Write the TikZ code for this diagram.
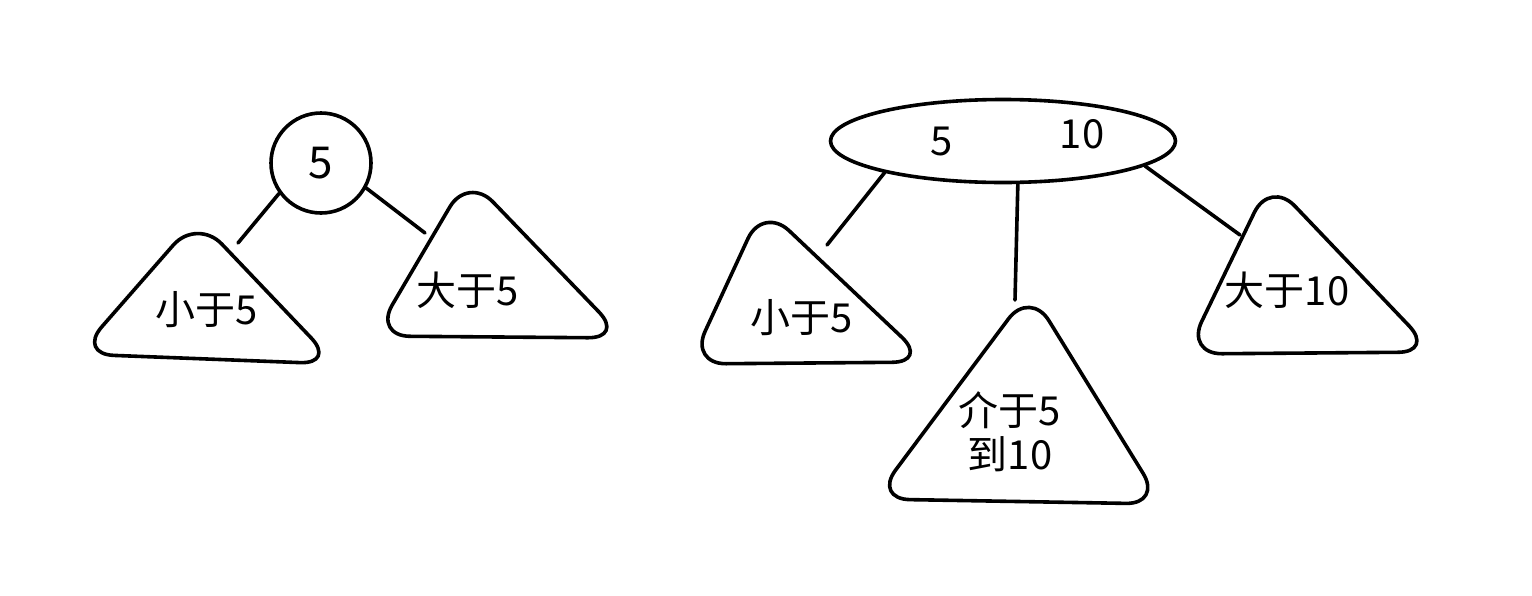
\documentclass[tikz,border=0pt]{standalone}
\usepackage{fontspec}
\newfontfamily\cjk{Noto Sans CJK SC}
\usetikzlibrary{shapes.geometric}
\begin{document}
\begin{tikzpicture}[x=1pt,y=-1pt,
  stroke/.style={line width=3.6pt,line cap=round,line join=round},
  tri/.style={stroke,rounded corners=36pt},
  lbl/.style={font=\cjk\fontsize{40}{46}\selectfont,inner sep=0pt,align=center},
  edge/.style={stroke}]
\useasboundingbox (0,0) rectangle (1532,595);
% left tree
\node[stroke,draw,circle,minimum size=100pt,inner sep=0pt,font=\cjk\fontsize{44}{46}\selectfont] (r1) at (321,163) {5};
\coordinate (a1) at (197,218);
\coordinate (b1) at (468,176);
\draw[tri] (a1) -- (336,364) -- (78,354) -- cycle;
\draw[tri] (b1) -- (624,338) -- (374,336) -- cycle;
\node[lbl] (t1) at (207,310) {小于5};
\node[lbl] (t2) at (468,290) {大于5};
\draw[edge] (r1.-144) -- (238,243);
\draw[edge] (r1.-29) -- (425,233);
% right tree
\node[stroke,draw,ellipse,minimum width=345pt,minimum height=83pt,inner sep=0pt] (r2) at (1003,141) {};
\node[lbl] (k1) at (942,141) {5};
\node[lbl] (k2) at (1082,134) {10};
\coordinate (c1) at (763,206);
\coordinate (c2) at (1030,290);
\coordinate (c3) at (1270,180);
\draw[tri] (c1) -- (928,362) -- (690,364) -- cycle;
\draw[tri] (c2) -- (1162,504) -- (874,499) -- cycle;
\draw[tri] (c3) -- (1434,352) -- (1186,354) -- cycle;
\node[lbl] (u1) at (802,318) {小于5};
\node[lbl] (u2) at (1010,432) {介于5\\[-2pt]到10};
\node[lbl] (u3) at (1287,290) {大于10};
\draw[edge] (r2.-165) -- (827,245);
\draw[edge] (r2.-71) -- (1015,300);
\draw[edge] (r2.-10) -- (1240,235);
\end{tikzpicture}
\end{document}
